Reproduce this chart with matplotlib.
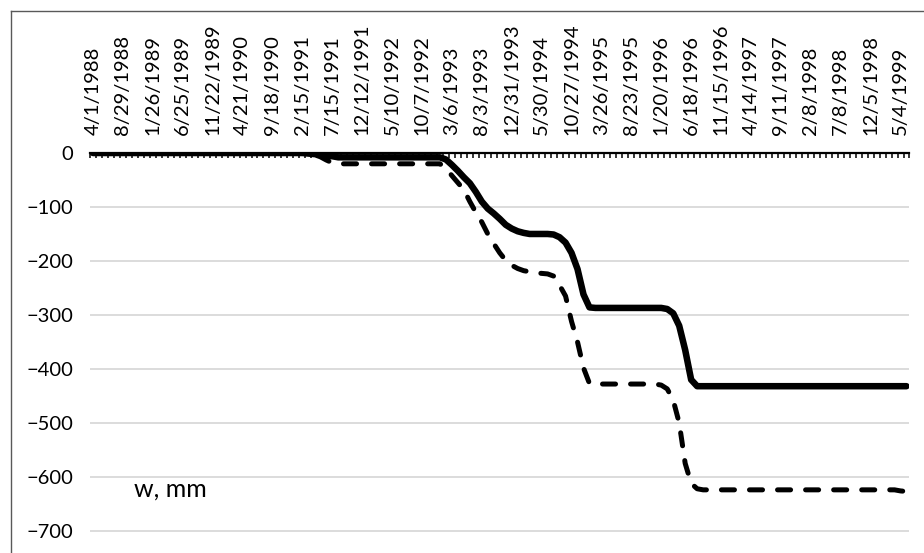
import matplotlib
matplotlib.use("Agg")
import matplotlib.pyplot as plt
from matplotlib.lines import Line2D
import numpy as np

plt.rcParams['font.family'] = ['Lato', 'DejaVu Sans']
plt.rcParams['lines.scale_dashes'] = False

# category labels (every 5th monthly step, 30 days apart)
tick_labels = ['4/1/1988', '8/29/1988', '1/26/1989', '6/25/1989', '11/22/1989',
               '4/21/1990', '9/18/1990', '2/15/1991', '7/15/1991', '12/12/1991',
               '5/10/1992', '10/7/1992', '3/6/1993', '8/3/1993', '12/31/1993',
               '5/30/1994', '10/27/1994', '3/26/1995', '8/23/1995', '1/20/1996',
               '6/18/1996', '11/15/1996', '4/14/1997', '9/11/1997', '2/8/1998',
               '7/8/1998', '12/5/1998', '5/4/1999']

# settlement w, mm (solid curve), one value per category
w_solid = [0, 0, 0, 0, 0, 0, 0, 0, 0, 0, 0, 0, 0, 0, 0, 0, 0, 0, 0, 0,
           0, 0, 0, 0, 0, 0, 0, 0, 0, 0, 0, 0, 0, 0, 0, 0,
           -1, -2, -3, -5, -6,
           -8, -8, -8, -8, -8, -8, -8, -8, -8, -8, -8, -8, -8, -8, -8, -8, -8, -8,
           -12, -22, -33, -45, -56, -72, -90, -103, -112, -122, -133, -140, -145,
           -148, -150, -150, -150, -150, -151, -156, -166, -185, -215, -262, -286,
           -287, -287, -287, -287, -287, -287, -287, -287, -287, -287, -287, -287,
           -289, -297, -320, -365, -420, -432,
           -432, -432, -432, -432, -432, -432, -432, -432, -432, -432, -432, -432,
           -432, -432, -432, -432, -432, -432, -432, -432, -432, -432, -432, -432,
           -432, -432, -432, -432, -432, -432, -432, -432, -432, -432, -432]

# settlement w, mm (dashed curve)
w_dashed = [0, 0, 0, 0, 0, 0, 0, 0, 0, 0, 0, 0, 0, 0, 0, 0, 0, 0, 0, 0,
            0, 0, 0, 0, 0, 0, 0, 0, 0, 0, 0, 0, 0, 0, 0, 0,
            -1, -3, -7, -13, -18,
            -20, -20, -20, -20, -20, -20, -20, -20, -20, -20, -20, -20, -20, -20,
            -20, -20, -20, -20,
            -28, -42, -55, -68, -90, -110, -128, -150, -168, -185, -199, -208, -214,
            -218, -220, -222, -223, -224, -228, -245, -265, -312, -350, -398, -427,
            -428, -428, -428, -428, -428, -428, -428, -428, -428, -428, -428,
            -430, -437, -458, -500, -575, -612, -622,
            -624, -624, -624, -624, -624, -624, -624, -624, -624, -624, -624,
            -624, -624, -624, -624, -624, -624, -624, -624, -624, -624, -624,
            -624, -624, -624, -624, -624, -624, -624, -624, -624, -624, -624,
            -626, -627]

n = len(w_solid)
x = np.arange(n)

fig = plt.figure(figsize=(9.24, 5.53), dpi=100)
ax = fig.add_axes([90 / 924, 0, (909.5 - 90) / 924, 400 / 553])

for v in range(-100, -701, -100):
    ax.axhline(v, color='#d9d9d9', lw=1.3, zorder=1)

ax.plot(x, w_solid, color='black', lw=4.7, solid_capstyle='round',
        solid_joinstyle='round', zorder=3)
ax.plot(x, w_dashed, color='black', lw=3.6, linestyle=(0, (9.4, 10.8)),
        dash_capstyle='round', dash_joinstyle='round', zorder=3)

ax.set_xlim(-0.5, n - 0.5)
ax.set_ylim(-741, 0)

ax.xaxis.tick_top()
ax.set_xticks(np.arange(0, n, 5)[:len(tick_labels)])
ax.set_xticklabels(tick_labels, rotation=90, fontsize=14.5)
ax.set_xticks(np.arange(-0.5, n), minor=True)
ax.tick_params(axis='x', which='major', length=0, pad=13)
ax.tick_params(axis='x', which='minor', direction='in', length=3.8, width=1.1,
               color='black', top=True, bottom=False)

ax.set_yticks(range(0, -701, -100))
ax.tick_params(axis='y', length=0, pad=12, labelsize=14.5)

for s in ['left', 'right', 'bottom']:
    ax.spines[s].set_visible(False)
ax.spines['top'].set_linewidth(1.6)
ax.spines['top'].set_zorder(4)

ax.text(13, -622, 'w, mm', fontsize=18, ha='center', va='center')

# chart area frame (left and top edges visible in the crop)
fig.add_artist(Line2D([10.5 / 924, 10.5 / 924], [0, 1 - 10.5 / 553],
                      transform=fig.transFigure, color='#595959', lw=1))
fig.add_artist(Line2D([10.5 / 924, 1], [1 - 10.5 / 553, 1 - 10.5 / 553],
                      transform=fig.transFigure, color='#595959', lw=1))

fig.savefig('out.png', dpi=100)
